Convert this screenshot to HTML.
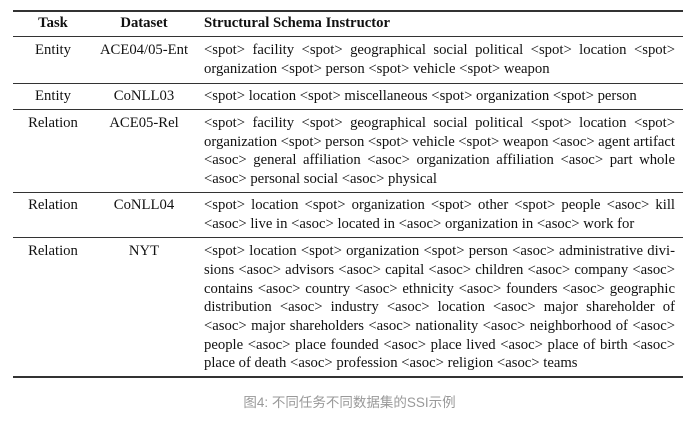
<!DOCTYPE html>
<html><head><meta charset="utf-8"><style>
body{margin:0;width:699px;height:424px;background:#fff;position:relative;overflow:hidden;font-family:"Liberation Serif",serif;font-size:14.7px;color:#111}
.r{position:absolute;left:13px;width:670px;background:#333}
.l{position:absolute;line-height:19px;white-space:nowrap}
.c1{left:13px;width:80px;text-align:center}
.c2{left:93px;width:102px;text-align:center}
.s{left:204px;width:471px;text-align:justify;text-align-last:justify}
.t{word-spacing:-0.6px}
.e{text-align-last:left}
.h{font-weight:bold}
.cap{position:absolute;top:391px;left:0;width:699px;text-align:center;font-family:"Liberation Sans","Noto Sans CJK SC",sans-serif;font-size:13.5px;color:#999}
</style></head><body>
<div class="r" style="top:10px;height:2px"></div>
<div class="r" style="top:36px;height:1px"></div>
<div class="r" style="top:83px;height:1px"></div>
<div class="r" style="top:109px;height:1px"></div>
<div class="r" style="top:192px;height:1px"></div>
<div class="r" style="top:237px;height:1px"></div>
<div class="r" style="top:376px;height:2px"></div>

<div class="l c1 h" style="top:14px">Task</div>
<div class="l c2 h" style="top:14px">Dataset</div>
<div class="l h" style="top:14px;left:204px">Structural Schema Instructor</div>

<div class="l c1" style="top:41px">Entity</div>
<div class="l c2" style="top:41px">ACE04/05-Ent</div>
<div class="l s" style="top:41px">&lt;spot&gt; facility &lt;spot&gt; geographical social political &lt;spot&gt; location &lt;spot&gt;</div>
<div class="l s e" style="top:60px">organization &lt;spot&gt; person &lt;spot&gt; vehicle &lt;spot&gt; weapon</div>

<div class="l c1" style="top:87px">Entity</div>
<div class="l c2" style="top:87px">CoNLL03</div>
<div class="l s e" style="top:87px">&lt;spot&gt; location &lt;spot&gt; miscellaneous &lt;spot&gt; organization &lt;spot&gt; person</div>

<div class="l c1" style="top:114px">Relation</div>
<div class="l c2" style="top:114px">ACE05-Rel</div>
<div class="l s" style="top:114px">&lt;spot&gt; facility &lt;spot&gt; geographical social political &lt;spot&gt; location &lt;spot&gt;</div>
<div class="l s t" style="top:133px">organization &lt;spot&gt; person &lt;spot&gt; vehicle &lt;spot&gt; weapon &lt;asoc&gt; agent artifact</div>
<div class="l s" style="top:151px">&lt;asoc&gt; general affiliation &lt;asoc&gt; organization affiliation &lt;asoc&gt; part whole</div>
<div class="l s e" style="top:170px">&lt;asoc&gt; personal social &lt;asoc&gt; physical</div>

<div class="l c1" style="top:196px">Relation</div>
<div class="l c2" style="top:196px">CoNLL04</div>
<div class="l s" style="top:196px">&lt;spot&gt; location &lt;spot&gt; organization &lt;spot&gt; other &lt;spot&gt; people &lt;asoc&gt; kill</div>
<div class="l s e" style="top:215px">&lt;asoc&gt; live in &lt;asoc&gt; located in &lt;asoc&gt; organization in &lt;asoc&gt; work for</div>

<div class="l c1" style="top:242px">Relation</div>
<div class="l c2" style="top:242px">NYT</div>
<div class="l s t" style="top:242px">&lt;spot&gt; location &lt;spot&gt; organization &lt;spot&gt; person &lt;asoc&gt; administrative divi-</div>
<div class="l s t" style="top:261px">sions &lt;asoc&gt; advisors &lt;asoc&gt; capital &lt;asoc&gt; children &lt;asoc&gt; company &lt;asoc&gt;</div>
<div class="l s" style="top:280px">contains &lt;asoc&gt; country &lt;asoc&gt; ethnicity &lt;asoc&gt; founders &lt;asoc&gt; geographic</div>
<div class="l s" style="top:298px">distribution &lt;asoc&gt; industry &lt;asoc&gt; location &lt;asoc&gt; major shareholder of</div>
<div class="l s t" style="top:317px">&lt;asoc&gt; major shareholders &lt;asoc&gt; nationality &lt;asoc&gt; neighborhood of &lt;asoc&gt;</div>
<div class="l s t" style="top:336px">people &lt;asoc&gt; place founded &lt;asoc&gt; place lived &lt;asoc&gt; place of birth &lt;asoc&gt;</div>
<div class="l s e" style="top:354px">place of death &lt;asoc&gt; profession &lt;asoc&gt; religion &lt;asoc&gt; teams</div>

<div class="cap">图4: 不同任务不同数据集的SSI示例</div>
</body></html>
